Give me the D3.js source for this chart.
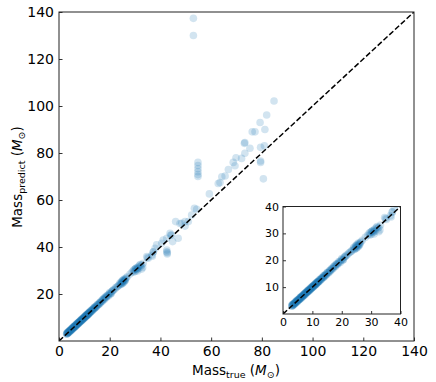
<!DOCTYPE html>
<html><head><meta charset="utf-8">
<script src="https://cdn.jsdelivr.net/npm/d3@7"></script>
<style>body{margin:0;background:#fff}text{font-family:"DejaVu Sans",sans-serif}</style>
</head><body><svg id="c" width="436" height="382"></svg>
<script>
// Data
const massTrue = [
 3.0,3.2,3.3,3.5,3.6,3.8,4.0,4.1,4.3,4.5,4.6,4.8,5.0,5.2,5.3,5.5,5.7,5.9,6.0,6.2,6.4,6.6,6.8,7.0,7.1,7.3,7.5,7.7,7.9,8.0,
 8.2,8.4,8.6,8.8,9.0,9.2,9.4,9.6,9.8,10.0,10.2,10.4,10.6,10.8,11.0,11.2,11.4,11.6,11.8,12.0,12.2,12.5,12.7,13.0,13.2,13.5,13.8,14.0,14.3,14.6,
 15.0,15.3,15.7,16.0,16.4,16.8,17.2,17.6,18.0,18.4,18.8,19.3,19.8,20.2,20.5,21.0,21.5,22.0,22.8,23.5,24.0,24.3,24.6,24.9,25.1,25.3,25.6,25.8,26.0,26.3,
 27.0,28.0,28.8,29.3,29.7,30.0,30.3,30.6,31.0,31.4,31.8,32.2,32.6,33.2,34.6,35.2,36.6,37.2,37.9,38.5,37.2,36.8,34.9,
 40.5,41.1,42.5,42.5,42.7,42.7,42.5,43.8,44.0,44.4,44.8,47.0,46.0,47.7,48.4,49.7,49.7,51.0,52.3,53.4,54.3,
 53.0,53.0,54.8,54.8,54.8,54.8,54.8,54.8,
 59.3,62.8,63.5,64.2,65.5,66.8,68.7,69.4,69.8,72.0,73.1,73.3,73.3,75.3,76.2,77.3,79.3,79.5,81.0,79.5,79.5,80.6,81.2,81.9,84.8,
 3.1,3.4,3.7,3.9,4.2,4.4,4.7,4.9,5.1,5.4,5.6,5.8,6.1,6.3,6.5,6.7,6.9,7.2,7.4,7.6,7.8,8.1,8.3,8.5,8.7,8.9,9.1,9.3,9.5,9.7,
 9.9,10.1,10.3,10.5,10.7,10.9,11.1,11.3,11.5,11.7,11.9,12.1,12.4,12.6,12.9,13.1,13.4,13.7,13.9,14.2,14.5,14.8,15.1,15.5,15.9,16.2,16.6,17.0,17.4,17.8,
 18.2,18.6,19.0,19.5,20.0,20.4,20.8,21.3,22.4,23.2,24.1,24.5,24.8,25.0,25.2,25.5,25.7,26.1,26.5,29.5,30.1,30.4,30.8,31.2,32.0,
 3.0,3.5,4.0,4.5,5.0,5.5,6.0,6.5,7.0,7.5,8.0,8.5,9.0,9.5,10.0,10.5,11.0,11.5,12.0,
 31.0,32.6,33.0
];
const massPredict = [
 3.1,3.0,3.4,3.6,3.5,3.9,4.1,3.9,4.4,4.5,4.8,4.7,5.1,5.0,5.4,5.6,5.6,6.0,6.2,6.1,6.5,6.5,6.9,7.1,6.9,7.4,7.6,7.6,8.0,8.2,
 8.1,8.5,8.7,8.7,9.1,9.1,9.5,9.7,9.7,10.1,10.3,10.3,10.7,10.9,10.9,11.3,11.5,11.5,11.9,12.2,12.1,12.6,12.8,12.9,13.4,13.6,13.7,14.2,14.4,14.5,
 15.2,15.4,15.6,16.3,16.5,16.9,17.5,17.8,18.3,18.6,19.0,19.4,20.1,20.3,20.2,21.3,21.8,22.1,23.0,23.6,24.3,24.0,24.8,25.3,24.7,25.6,25.0,26.0,25.6,26.5,
 27.4,28.5,29.3,30.0,30.4,29.6,30.8,30.3,31.2,30.9,32.2,31.8,32.3,33.1,35.9,35.2,36.6,38.0,39.4,40.9,37.9,36.1,35.5,
 41.6,43.0,43.7,38.0,37.6,37.0,38.7,45.8,45.0,45.1,42.3,43.7,50.8,50.0,50.1,50.8,48.9,50.8,53.6,56.5,56.0,
 137.3,130.0,76.0,74.7,73.3,72.0,70.8,70.0,
 62.6,67.0,67.4,69.9,70.2,73.0,76.0,74.6,78.0,77.7,84.1,84.5,79.9,82.0,89.0,89.0,93.0,82.4,83.1,76.0,76.6,69.0,90.0,96.2,102.1,
 3.5,3.2,4.0,3.6,4.5,4.2,5.0,4.6,5.4,5.2,5.9,5.5,6.4,6.0,6.8,6.4,7.2,7.0,7.7,7.3,8.1,7.9,8.6,8.3,9.0,8.6,9.4,9.0,9.8,9.5,
 10.2,9.9,10.6,10.2,11.0,10.7,11.4,11.0,11.8,11.5,12.2,11.9,12.7,12.4,13.2,12.9,13.7,13.5,14.3,14.0,14.8,14.6,15.5,15.3,16.2,16.0,17.0,16.8,17.8,17.6,
 18.7,18.4,19.5,19.2,20.6,20.0,21.0,21.5,22.7,23.3,24.8,24.2,25.5,24.5,25.9,25.3,26.4,25.9,26.9,29.4,30.6,31.0,30.5,31.6,32.5,
 3.0,3.5,4.0,4.5,5.0,5.5,6.0,6.5,7.0,7.5,8.0,8.5,9.0,9.5,10.0,10.5,11.0,11.5,12.0,
 29.8,30.6,31.3
];
const mainTicksX = [0,20,40,60,80,100,120,140];
const mainTicksY = [20,40,60,80,100,120,140];
const insetTicksX = [0,10,20,30,40];
const insetTicksY = [10,20,30,40];
const points = massTrue.map((t,i)=>({t, p: massPredict[i]}));

const svg = d3.select("#c");
const color = "#1f77b4";

function panel(g, xs, ys, tx, ty, fs, tick, id, pad, r) {
  const [x0,x1] = xs.range(), [y0,y1] = ys.range();
  g.append("rect").attr("x",x0).attr("y",y1).attr("width",x1-x0).attr("height",y0-y1).attr("fill","#fff");
  g.append("clipPath").attr("id",id).append("rect").attr("x",x0).attr("y",y1).attr("width",x1-x0).attr("height",y0-y1);
  const pg = g.append("g").attr("clip-path",`url(#${id})`);
  pg.selectAll("circle").data(points).join("circle")
    .attr("cx",d=>xs(d.t)).attr("cy",d=>ys(d.p)).attr("r",r)
    .attr("fill",color).attr("fill-opacity",0.2);
  const dmax = xs.domain()[1];
  pg.append("line").attr("x1",xs(0)).attr("y1",ys(0)).attr("x2",xs(dmax)).attr("y2",ys(dmax))
    .attr("stroke","#000").attr("stroke-width",1.5).attr("stroke-dasharray","5.5,2.4");
  const ax = g.append("g").attr("transform",`translate(0,${y0})`)
    .call(d3.axisBottom(xs).tickValues(tx).tickFormat(d3.format("d")).tickSizeInner(-tick).tickSizeOuter(0).tickPadding(pad));
  const ay = g.append("g").attr("transform",`translate(${x0},0)`)
    .call(d3.axisLeft(ys).tickValues(ty).tickFormat(d3.format("d")).tickSizeInner(-tick).tickSizeOuter(0).tickPadding(pad));
  [ax,ay].forEach(a=>{
    a.select(".domain").remove();
    a.selectAll("text").attr("font-size",fs).attr("fill","#000").attr("font-family","DejaVu Sans");
    a.selectAll(".tick line").attr("stroke","#000").attr("stroke-width",0.8);
  });
  g.append("rect").attr("x",x0).attr("y",y1).attr("width",x1-x0).attr("height",y0-y1)
    .attr("fill","none").attr("stroke","#222").attr("stroke-width",1);
}

const x = d3.scaleLinear([0,140],[59,414]);
const y = d3.scaleLinear([0,140],[341,12]);
panel(svg.append("g"), x, y, mainTicksX, mainTicksY, 14, 3.5, "clipMain", 5, 3.8);

const xi = d3.scaleLinear([0,40],[283,400.5]);
const yi = d3.scaleLinear([0,40],[314,206.5]);
panel(svg.append("g"), xi, yi, insetTicksX, insetTicksY, 11, 3, "clipInset", 4, 3.8);

// axis labels
function label(t, sub) {
  t.append("tspan").text("Mass");
  t.append("tspan").attr("font-size",9.5).attr("dy",3).text(sub);
  t.append("tspan").attr("dy",-3).text(" (");
  t.append("tspan").attr("font-style","italic").text("M");
  t.append("tspan").attr("font-size",9.5).attr("dy",3).text("⊙");
  t.append("tspan").attr("dy",-3).text(")");
}
label(svg.append("text").attr("x",236).attr("y",375).attr("text-anchor","middle").attr("font-size",13.5), "true");
label(svg.append("text").attr("transform","translate(22,177) rotate(-90)").attr("text-anchor","middle").attr("font-size",13.5), "predict");
</script></body></html>
